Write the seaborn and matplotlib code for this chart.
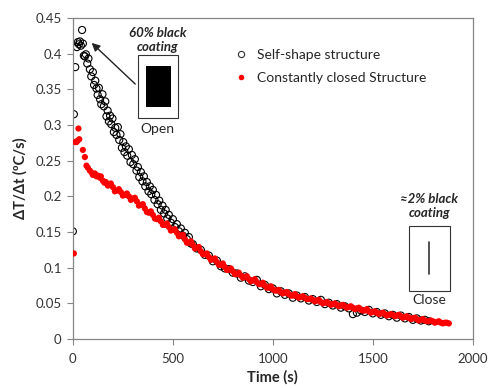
import matplotlib
matplotlib.use("Agg")
import matplotlib.pyplot as plt
import seaborn as sns
import pandas as pd
from matplotlib.patches import Rectangle
from matplotlib.lines import Line2D

# ---- data ----
open_time = [0, 5, 12, 20, 25, 30, 35, 40, 46, 50, 55, 60, 65, 72, 78, 85, 92, 100, 106, 112,
             118, 124, 130, 136, 142, 148, 155, 162, 168, 174, 180, 186, 192, 198, 205, 212, 218,
             225, 232, 238, 245, 252, 258, 265, 272, 280, 288, 295, 302, 310, 318, 325, 332, 340,
             348, 355, 362, 370, 378, 385, 392, 400, 408, 416, 424, 432, 440, 448, 456, 464, 472,
             480, 490, 500, 510, 520, 530, 540, 550, 560, 570, 580, 590,
             600, 620, 640, 660, 680, 700, 720, 740, 760, 780, 800, 820, 840, 860, 880, 900, 920,
             940, 960, 980, 1000, 1020, 1040, 1060, 1080, 1100, 1120, 1140, 1160, 1180, 1200, 1220,
             1240, 1260, 1280, 1300, 1320, 1340, 1360, 1380, 1400, 1420, 1440, 1460, 1480, 1500,
             1520, 1540, 1560, 1580, 1600, 1620, 1640, 1660, 1680, 1700, 1720, 1740, 1760, 1780]
open_rate = [0.151, 0.315, 0.381, 0.409, 0.416, 0.413, 0.417, 0.411, 0.433, 0.414, 0.397, 0.396,
             0.399, 0.386, 0.393, 0.378, 0.368, 0.374, 0.356, 0.362, 0.351, 0.342, 0.352, 0.336,
             0.329, 0.343, 0.326, 0.333, 0.312, 0.320, 0.305, 0.313, 0.301, 0.309, 0.290, 0.296,
             0.286, 0.297, 0.279, 0.287, 0.268, 0.276, 0.262, 0.270, 0.257, 0.266, 0.248, 0.258,
             0.245, 0.252, 0.236, 0.241, 0.227, 0.234, 0.221, 0.228, 0.214, 0.220, 0.207, 0.214,
             0.203, 0.209, 0.195, 0.202, 0.189, 0.194, 0.181, 0.187, 0.176, 0.181, 0.169, 0.174,
             0.163, 0.168, 0.157, 0.161, 0.151, 0.155, 0.145, 0.149, 0.140, 0.143, 0.134,
             0.133, 0.127, 0.125, 0.118, 0.117, 0.109, 0.110, 0.102, 0.099, 0.098, 0.093, 0.092,
             0.086, 0.088, 0.082, 0.080, 0.083, 0.074, 0.076, 0.070, 0.071, 0.064, 0.067, 0.062,
             0.064, 0.058, 0.061, 0.057, 0.059, 0.054, 0.056, 0.052, 0.055, 0.049, 0.051, 0.047,
             0.049, 0.044, 0.046, 0.043, 0.035, 0.037, 0.040, 0.038, 0.041, 0.036, 0.038, 0.034,
             0.036, 0.032, 0.034, 0.030, 0.033, 0.029, 0.031, 0.027, 0.029, 0.026, 0.027, 0.025]

closed_time = [5, 12, 18, 24, 28, 32, 50, 60, 68, 75, 85, 95, 100, 110, 118, 125, 135, 140, 150,
               158, 165, 175, 180, 200, 220, 240, 260, 280, 300, 320, 340, 360, 380, 400, 420,
               440, 460, 480, 500, 520, 540, 560, 580, 600, 620, 640, 660, 680, 700, 720, 740,
               760, 780, 800, 820, 840, 860, 880, 900, 920, 940, 960, 980, 1000, 1020, 1040, 1060,
               1080, 1100, 1120, 1140, 1160, 1180, 1200, 1220, 1240, 1260, 1280, 1300, 1320, 1340,
               1360, 1380, 1400, 1420, 1440, 1460, 1480, 1500, 1520, 1540, 1560, 1580, 1600, 1620,
               1640, 1660, 1680, 1700, 1720, 1740, 1760, 1780, 1800, 1820, 1840, 1860, 1880,
               190, 210, 230, 250, 270, 290, 310, 330, 350, 370, 390, 410, 430, 450, 470, 490,
               510, 530, 550, 570, 590, 610, 630, 650, 670, 690, 710, 730, 750, 770, 790, 810,
               830, 850, 870, 890, 910, 930, 950, 970, 990, 1010, 1030, 1050, 1070, 1090, 1110,
               1130, 1150, 1170, 1190, 1210, 1230, 1250, 1270, 1290, 1310, 1330, 1350, 1370, 1390,
               1410, 1430, 1450, 1470, 1490, 1510, 1530, 1550, 1570, 1590, 1610, 1630, 1650, 1670,
               1690, 1710, 1730, 1750, 1770, 1790, 1810, 1830, 1850, 1870]
closed_rate = [0.120, 0.276, 0.276, 0.278, 0.295, 0.280, 0.265, 0.255, 0.243, 0.240, 0.236, 0.233,
               0.230, 0.232, 0.228, 0.229, 0.226, 0.228, 0.222, 0.219, 0.220, 0.215, 0.216, 0.213,
               0.208, 0.206, 0.202, 0.200, 0.197, 0.193, 0.188, 0.183, 0.177, 0.174, 0.168, 0.165,
               0.160, 0.157, 0.153, 0.149, 0.145, 0.140, 0.135, 0.132, 0.128, 0.123, 0.119, 0.115,
               0.112, 0.108, 0.104, 0.101, 0.097, 0.095, 0.091, 0.089, 0.087, 0.084, 0.082, 0.080,
               0.077, 0.075, 0.072, 0.070, 0.068, 0.066, 0.065, 0.063, 0.061, 0.060, 0.059, 0.058,
               0.056, 0.055, 0.054, 0.052, 0.051, 0.050, 0.049, 0.048, 0.047, 0.046, 0.045, 0.044,
               0.043, 0.041, 0.040, 0.039, 0.038, 0.037, 0.036, 0.035, 0.034, 0.034, 0.033, 0.032,
               0.031, 0.030, 0.029, 0.028, 0.027, 0.026, 0.025, 0.025, 0.024, 0.023, 0.023, 0.022,
               0.218, 0.207, 0.210, 0.201, 0.204, 0.195, 0.198, 0.187, 0.189, 0.178, 0.179, 0.169,
               0.170, 0.160, 0.162, 0.152, 0.154, 0.144, 0.146, 0.135, 0.137, 0.127, 0.129, 0.119,
               0.120, 0.111, 0.113, 0.104, 0.106, 0.097, 0.099, 0.091, 0.093, 0.086, 0.088, 0.081,
               0.084, 0.077, 0.079, 0.072, 0.074, 0.068, 0.069, 0.064, 0.066, 0.061, 0.063, 0.058,
               0.060, 0.056, 0.057, 0.053, 0.055, 0.050, 0.052, 0.048, 0.050, 0.046, 0.048, 0.044,
               0.046, 0.042, 0.044, 0.040, 0.042, 0.037, 0.039, 0.035, 0.037, 0.033, 0.035, 0.032,
               0.034, 0.030, 0.032, 0.028, 0.030, 0.026, 0.028, 0.025, 0.026, 0.023, 0.025, 0.022,
               0.023]

x_ticks = [0, 500, 1000, 1500, 2000]
y_ticks = [0, 0.05, 0.1, 0.15, 0.2, 0.25, 0.3, 0.35, 0.4, 0.45]
y_tick_labels = ["0", "0.05", "0.1", "0.15", "0.2", "0.25", "0.3", "0.35", "0.4", "0.45"]
series_names = ["Self-shape structure", "Constantly closed Structure"]

df_open = pd.DataFrame({"t": open_time, "r": open_rate})
df_closed = pd.DataFrame({"t": closed_time, "r": closed_rate})

sns.set_style("white")
plt.rcParams["font.family"] = ["Lato", "DejaVu Sans"]

fig = plt.figure(figsize=(4.89, 3.88), dpi=100)
ax = fig.add_axes([0.149, 0.126, 0.818, 0.828])

sns.scatterplot(data=df_open, x="t", y="r", ax=ax, marker="o", s=26,
                facecolor="none", edgecolor="black", linewidth=0.8, zorder=2)
sns.scatterplot(data=df_closed, x="t", y="r", ax=ax, marker="o", s=20,
                color="#FF0000", edgecolor="none", linewidth=0, zorder=3)

ax.set_xlim(0, 2000)
ax.set_ylim(0, 0.45)
ax.set_xticks(x_ticks)
ax.set_xticklabels([str(v) for v in x_ticks])
ax.set_yticks(y_ticks)
ax.set_yticklabels(y_tick_labels)
ax.tick_params(axis="both", which="major", direction="out", length=4, width=0.8,
               color="#868686", labelsize=9.5, labelcolor="#333333", pad=4,
               bottom=True, left=True)
ax.tick_params(axis="x", pad=6)
for sp in ax.spines.values():
    sp.set_color("#868686")
    sp.set_linewidth(0.9)
    sp.set_visible(True)

ax.set_xlabel("Time (s)", fontsize=10.5, fontweight="bold", labelpad=4)
ax.set_ylabel("ΔT/Δt (ºC/s)", fontsize=10.5, fontweight="bold", labelpad=6)

# legend
handles = [Line2D([], [], marker="o", linestyle="none", markersize=4.5,
                  markerfacecolor="none", markeredgecolor="#333333", markeredgewidth=0.8),
           Line2D([], [], marker="o", linestyle="none", markersize=4,
                  markerfacecolor="#FF0000", markeredgecolor="none")]
ax.legend(handles, series_names, loc="upper left", bbox_to_anchor=(0.39, 0.92),
          frameon=False, fontsize=10, handletextpad=0.6, labelspacing=0.8,
          handlelength=1.0, borderaxespad=0)

# annotations: open
tr = ax.transAxes
ax.add_patch(Rectangle((0.164, 0.688), 0.099, 0.197, transform=tr, fill=False,
                       edgecolor="#333333", linewidth=0.8, zorder=4))
ax.add_patch(Rectangle((0.184, 0.723), 0.062, 0.127, transform=tr, facecolor="black",
                       edgecolor="none", zorder=4))
ax.text(0.211, 0.952, "60% black", transform=tr, ha="center", va="center",
        fontsize=9.5, fontweight="bold", fontstyle="italic")
ax.text(0.211, 0.910, "coating", transform=tr, ha="center", va="center",
        fontsize=9.5, fontweight="bold", fontstyle="italic")
ax.text(0.211, 0.655, "Open", transform=tr, ha="center", va="center", fontsize=10)
ax.annotate("", xy=(0.042, 0.928), xytext=(0.161, 0.788), xycoords=tr, textcoords=tr,
            arrowprops=dict(arrowstyle="-|>", color="#222222", lw=1.0, mutation_scale=12))

# annotations: close
ax.add_patch(Rectangle((0.841, 0.150), 0.102, 0.202, transform=tr, fill=False,
                       edgecolor="#333333", linewidth=0.8, zorder=4))
ax.plot([0.891, 0.891], [0.202, 0.302], transform=tr, color="#333333", lw=1.2)
ax.text(0.891, 0.436, "≈2% black", transform=tr, ha="center", va="center",
        fontsize=9.5, fontweight="bold", fontstyle="italic")
ax.text(0.891, 0.394, "coating", transform=tr, ha="center", va="center",
        fontsize=9.5, fontweight="bold", fontstyle="italic")
ax.text(0.891, 0.121, "Close", transform=tr, ha="center", va="center", fontsize=10)

fig.savefig("out.png", dpi=100)
